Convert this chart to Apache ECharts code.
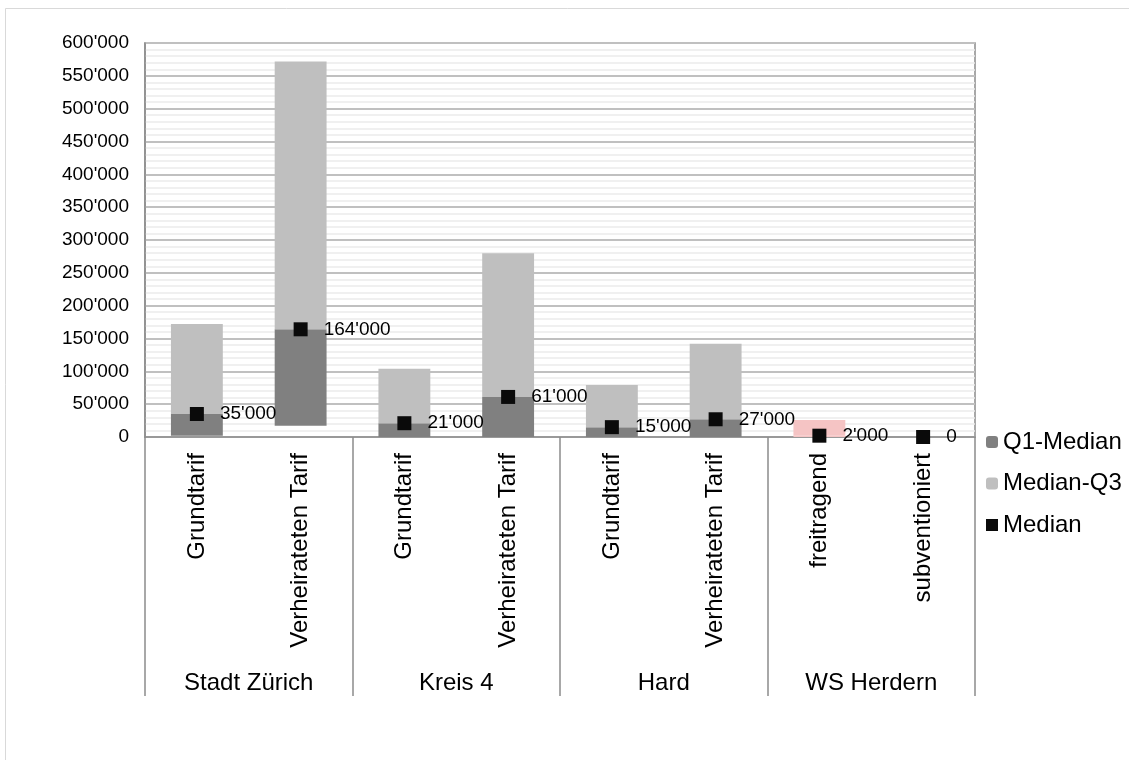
<!DOCTYPE html>
<html>
<head>
<meta charset="utf-8">
<script src="https://cdn.jsdelivr.net/npm/echarts@6/dist/echarts.min.js"></script>
<style>
  html, body { margin: 0; padding: 0; background: #fff; }
  #chart { width: 1129px; height: 760px; }
</style>
</head>
<body>
<div id="chart"></div>
<script>
// Categories: tariff per area, grouped by area
const groups = ['Stadt Zürich', 'Kreis 4', 'Hard', 'WS Herdern'];
const categories = ['Grundtarif', 'Verheirateten Tarif', 'Grundtarif', 'Verheirateten Tarif',
                    'Grundtarif', 'Verheirateten Tarif', 'freitragend', 'subventioniert'];

// Quartile values per category
const q1 = [2000, 17000, 0, 0, 0, 0, 0, 0];
const median = [35000, 164000, 21000, 61000, 15000, 27000, 2000, 0];
const q3 = [172000, 572000, 104000, 280000, 79000, 142000, 26000, 0];

// Y axis ticks
const yMin = 0, yMax = 600000, yStep = 50000;

const fmt = v => String(Math.round(v)).replace(/\B(?=(\d{3})+(?!\d))/g, "'");

const highlightIdx = 6; // WS Herdern / freitragend is drawn in pink
const pink = '#f5c4c4';

const lowerPart = q1.map((v, i) => ({
  value: median[i] - v,
  itemStyle: i === highlightIdx ? { color: pink } : undefined
}));
const upperPart = q3.map((v, i) => ({
  value: v - median[i],
  itemStyle: i === highlightIdx ? { color: pink } : undefined
}));

const FONT = 'Liberation Sans, Arial, sans-serif';

const chart = echarts.init(document.getElementById('chart'), null, { renderer: 'canvas' });

chart.setOption({
  animation: false,
  backgroundColor: '#fff',
  textStyle: { fontFamily: FONT },
  graphic: [{
    type: 'rect',
    silent: true,
    shape: { x: 5.5, y: 8.5, width: 1200, height: 800 },
    style: { fill: 'none', stroke: '#d9d9d9', lineWidth: 1 },
    z: -1
  }],
  grid: {
    left: 145, right: 154, top: 43, bottom: 323,
    show: true, borderColor: '#8c8c8c', borderWidth: 1.5,
    containLabel: false
  },
  legend: {
    orient: 'vertical',
    left: 981, top: 425,
    itemWidth: 12, itemHeight: 12,
    itemGap: 17.5,
    data: ['Q1-Median', 'Median-Q3', 'Median'],
    textStyle: { fontSize: 24, color: '#000', fontFamily: FONT },
    selectedMode: false
  },
  xAxis: [{
    type: 'category',
    data: categories,
    position: 'bottom',
    axisLine: { show: true, lineStyle: { color: '#8c8c8c', width: 1.5 } },
    axisTick: { show: false },
    axisLabel: {
      rotate: 90, interval: 0, margin: 16,
      fontSize: 24, color: '#000', fontFamily: FONT
    }
  }, {
    type: 'category',
    data: groups,
    position: 'bottom',
    axisLine: { show: false },
    axisTick: { show: true, length: 259, lineStyle: { color: '#8c8c8c', width: 1.5 } },
    axisLabel: { margin: 234, fontSize: 24, color: '#000', fontFamily: FONT },
    splitLine: { show: false }
  }],
  yAxis: {
    type: 'value',
    min: yMin, max: yMax, interval: yStep,
    axisLine: { show: true, lineStyle: { color: '#8c8c8c', width: 1.5 } },
    axisTick: { show: false },
    axisLabel: {
      formatter: v => fmt(v), margin: 16,
      fontSize: 19, color: '#000', fontFamily: FONT
    },
    splitLine: { show: true, lineStyle: { color: '#c0c0c0', width: 2 } },
    minorTick: { show: false, splitNumber: 5 },
    minorSplitLine: { show: true, lineStyle: { color: '#ececec', width: 1.5 } }
  },
  series: [{
    name: 'base',
    type: 'bar',
    stack: 'box',
    barWidth: '50%',
    silent: true,
    itemStyle: { color: 'transparent' },
    data: q1
  }, {
    name: 'Q1-Median',
    type: 'bar',
    stack: 'box',
    barWidth: '50%',
    silent: true,
    itemStyle: { color: '#808080' },
    data: lowerPart
  }, {
    name: 'Median-Q3',
    type: 'bar',
    stack: 'box',
    barWidth: '50%',
    silent: true,
    itemStyle: { color: '#bfbfbf' },
    data: upperPart
  }, {
    name: 'Median',
    type: 'scatter',
    symbol: 'rect',
    symbolSize: 14,
    silent: true,
    itemStyle: { color: '#0a0a0a', opacity: 1 },
    label: {
      show: true, position: 'right', distance: 16,
      formatter: p => fmt(p.value),
      fontSize: 19, color: '#000', fontFamily: FONT
    },
    data: median,
    z: 5
  }]
});
</script>
</body>
</html>
